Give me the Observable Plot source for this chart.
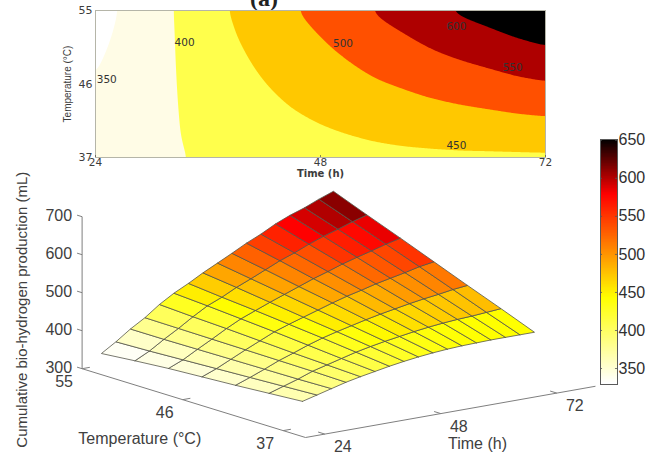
<!DOCTYPE html>
<html>
<head>
<meta charset="utf-8">
<script src="https://cdn.jsdelivr.net/npm/d3@7"></script>
<script src="https://cdn.jsdelivr.net/npm/@observablehq/plot@0.6"></script>
<style>
  html, body { margin: 0; padding: 0; background: #fff; overflow: hidden; }
  #wrap { position: relative; width: 646px; height: 466px; overflow: hidden; font-family: "Liberation Sans", Arial, sans-serif; }
  #wrap svg { position: absolute; left: 0; font-family: "Liberation Sans", Arial, sans-serif; }
  #tag { position: absolute; left: 250px; top: -15px; font: bold 24px "Liberation Serif", serif; color: #222; }
</style>
</head>
<body>
<div id="wrap"><div id="tag">(a)</div></div>
<script>
const times = [24,27,30,33,36,39,42,45,48,51,54,57,60,63,66,69,72];
const temps = [37,40,43,46,49,52,55];
// one row per time, one column per temperature (mL)
const t24 = [368,362,356,351,346,339,331];
const t27 = [378,374,370,366,362,358,355];
const t30 = [388,386,385,384,383,382,382];
const t33 = [398,400,401,402,403,404,405];
const t36 = [406,410,414,419,424,428,433];
const t39 = [413,420,428,436,443,450,456];
const t42 = [420,430,440,449,458,466,475];
const t45 = [426,438,450,461,473,485,496];
const t48 = [431,445,459,473,487,501,515];
const t51 = [435,451,468,485,501,518,534];
const t54 = [438,457,476,496,515,535,554];
const t57 = [440,462,483,505,527,549,571];
const t60 = [441,466,490,515,540,565,591];
const t63 = [442,469,496,523,551,579,607];
const t66 = [442,471,501,531,561,591,620];
const t69 = [442,474,507,540,572,604,636];
const t72 = [442,477,511,546,581,615,650];
const production = [t24,t27,t30,t33,t36,t39,t42,t45,t48,t51,t54,t57,t60,t63,t66,t69,t72];

const bandThresholds = [350,400,450,500,550,600];
const bandColors = ["#fffce6","#ffff4c","#ffc800","#ff5000","#ae0000","#000000"];
const contourLabels = [
  {t:25.2,T:46.5,s:"350"},{t:33.5,T:51.1,s:"400"},{t:62.5,T:38.5,s:"450"},
  {t:50.4,T:51,s:"500"},{t:68.5,T:48,s:"550"},{t:62.5,T:53,s:"600"}
];
const barDomain = [330,442,578,650];
const surfaceDomain = [335,442,565,650];
const rampColors = ["#ffffff","#ffff00","#ff0000","#000000"];
const barTicks = [350,400,450,500,550,600,650];
const zTicks = [300,400,500,600,700];
const timeTicks = [24,48,72];
const tempTicks = [37,46,55];
const box = {t:[20,80],T:[35,55],z:[300,700]};

const wrap = document.getElementById("wrap");
const ink = "#3c3c3c", axisGray = "#7f7f7f", wide = "DejaVu Sans";

// table lookup between the read grid values
function sample(t,T){
  const i=Math.min(times.length-2,Math.max(0,d3.bisectRight(times,t)-1));
  const j=Math.min(temps.length-2,Math.max(0,d3.bisectRight(temps,T)-1));
  const a=(t-times[i])/(times[i+1]-times[i]), b=(T-temps[j])/(temps[j+1]-temps[j]);
  const p=production;
  return (1-a)*(1-b)*p[i][j]+a*(1-b)*p[i+1][j]+(1-a)*b*p[i][j+1]+a*b*p[i+1][j+1];
}

// ---- contour panel
const top_ = Plot.plot({
  width:646,height:190,marginLeft:95,marginRight:101,marginTop:10,marginBottom:33,
  style:{background:"transparent"},
  x:{domain:[24,72],axis:null},y:{domain:[37,55],axis:null},
  color:{type:"ordinal",domain:bandThresholds,range:bandColors},
  marks:[
    Plot.contour({x1:24,x2:72,y1:37,y2:55,fill:sample,thresholds:bandThresholds,stroke:"none",pixelSize:1,blur:5}),
    Plot.frame({stroke:"#b5b5a8",strokeWidth:1}),
    Plot.axisX(timeTicks,{anchor:"bottom",tickSize:-2,tickPadding:3,fontSize:10.5,fontFamily:wide,fill:ink,stroke:ink,label:null,strokeOpacity:.6}),
    Plot.axisY(tempTicks,{anchor:"left",tickSize:0,tickPadding:3,fontSize:11,fontFamily:wide,fill:ink,label:null}),
    Plot.text(["Time (h)"],{x:48,y:37,dy:16,text:d=>d,fontSize:10,fontWeight:"bold",fontFamily:wide,fill:ink}),
    Plot.text(["Temperature (°C)"],{x:24,y:46,dx:-28,text:d=>d,rotate:-90,fontSize:10,fill:ink}),
    Plot.text(contourLabels,{x:"t",y:"T",text:"s",fontSize:10.5,fontFamily:wide,fill:"#333",stroke:"none"})
  ]
});
top_.style.top="0px"; wrap.append(top_);

// ---- 3-D surface: orthographic view of (time, temperature, production)
const px = (t,T)=>305+4.833*(t-20)-11.17*(T-35);
const py = (t,T,z)=>437-0.854*(t-20)-3.44*(T-35)-0.38*(z-300);
const cells=[];
for(let i=0;i<times.length-1;i++)for(let j=0;j<temps.length-1;j++){
  const id=i+"-"+j, v=production[i][j];
  [[i,j],[i+1,j],[i+1,j+1],[i,j+1],[i,j]].forEach(([a,b])=>cells.push({
    id,v,x:px(times[a],temps[b]),y:py(times[a],temps[b],production[a][b])}));
}
const seg=(t1,T1,z1,t2,T2,z2)=>({x1:px(t1,T1),y1:py(t1,T1,z1),x2:px(t2,T2),y2:py(t2,T2,z2)});
const [t0,t9]=box.t,[T0,T9]=box.T,[z0,z9]=box.z;
const axisLines=[seg(t0,T0,z0,t9,T0,z0),seg(t0,T0,z0,t0,T9,z0),seg(t0,T9,z0,t0,T9,z9)];
const tickLines=[
  ...tempTicks.map(T=>seg(t0,T,z0,t0+1.6,T,z0)),
  ...timeTicks.map(t=>seg(t,T0,z0,t,T0+.6,z0)),
  ...zTicks.map(z=>seg(t0,T9,z,t0,T9+.45,z))
];
const at=(t,T,z,s,dx,dy)=>({x:px(t,T),y:py(t,T,z),s,dx,dy});
const labelStyle={x:"x",y:"y",text:"s",fontSize:16,fill:"#404040"};
const lab=(items,o={})=>items.map(d=>Plot.text([d],{...labelStyle,dx:d.dx,dy:d.dy,...o}));
const surface = Plot.plot({
  width:646,height:466,margin:0,
  style:{background:"transparent"},
  x:{domain:[0,646],axis:null},y:{domain:[466,0],axis:null},
  color:{type:"linear",domain:surfaceDomain,range:rampColors,clamp:true},
  marks:[
    Plot.link(axisLines,{x1:"x1",y1:"y1",x2:"x2",y2:"y2",stroke:axisGray,strokeWidth:1}),
    Plot.link(tickLines,{x1:"x1",y1:"y1",x2:"x2",y2:"y2",stroke:axisGray,strokeWidth:1}),
    Plot.line(cells,{x:"x",y:"y",z:"id",fill:"v",stroke:"#55554a",strokeWidth:.8,curve:"linear"}),
    ...lab(zTicks.map(z=>at(t0,T9,z,String(z),-10,-1)),{textAnchor:"end"}),
    ...lab(tempTicks.map(T=>at(t0,T,z0,String(T),-18,13))),
    ...lab(timeTicks.map(t=>at(t,T0,z0,String(t),18,13))),
    ...lab([at(50,T0,z0,"Time (h)",27,32)]),
    ...lab([at(t0,45,z0,"Temperature (°C)",-54,36)]),
    ...lab([at(t0,T9,500,"Cumulative bio-hydrogen production (mL)",-60,17)],{rotate:-90,fontSize:15})
  ]
});
surface.style.top="0px"; wrap.append(surface);

// ---- colour bar
const levels=d3.range(329,651,1);
const bar = Plot.plot({
  width:646,height:466,marginLeft:600,marginRight:29,marginTop:139,marginBottom:82,
  style:{background:"transparent"},
  x:{domain:[0,1],axis:null},y:{domain:[329,651],axis:null},
  color:{type:"linear",domain:barDomain,range:rampColors,clamp:true},
  marks:[
    Plot.rect(levels,{x1:0,x2:1,y1:d=>d,y2:d=>d+1.5,fill:d=>d,shapeRendering:"crispEdges"}),
    Plot.ruleY(barTicks,{x1:0,x2:.12,stroke:"#555",strokeWidth:.8}),
    Plot.ruleY(barTicks,{x1:.88,x2:1,stroke:"#555",strokeWidth:.8}),
    Plot.frame({stroke:"#5a5a5a",strokeWidth:1}),
    Plot.axisY(barTicks,{anchor:"right",tickSize:0,tickPadding:1,fontSize:16,fill:"#303030",label:null})
  ]
});
bar.style.top="0px"; wrap.append(bar);
</script>
</body>
</html>
